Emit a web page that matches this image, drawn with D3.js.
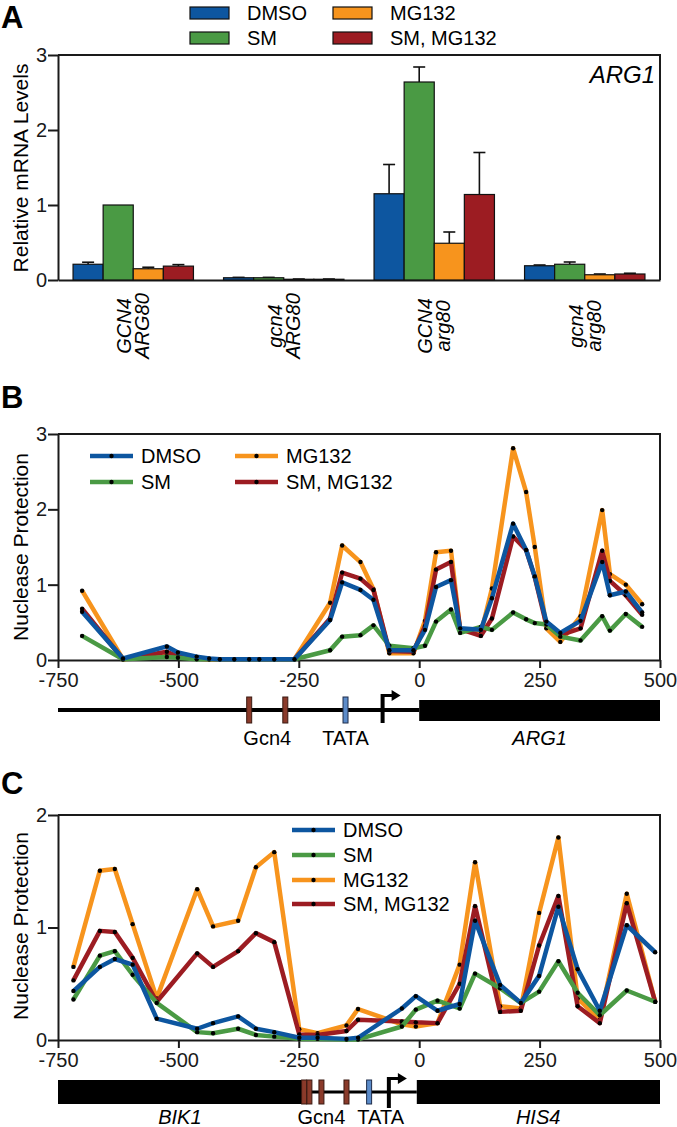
<!DOCTYPE html>
<html>
<head>
<meta charset="utf-8">
<script src="https://cdn.jsdelivr.net/npm/d3@7"></script>
<style>
body { margin: 0; background: #fff; }
svg { font-family: "Liberation Sans", Arial, sans-serif; }
.axis path, .axis line { stroke: #1a1a1a; stroke-width: 2; }
.axis text { font-size: 20px; fill: #1a1a1a; }
</style>
</head>
<body>
<div class="container"></div>
<script>
const WIDTH = 677;
const HEIGHT = 1127;
const LEFT = 58;
const RIGHT = 660;

// ---- panel A: relative ARG1 mRNA ----
var strains = [["GCN4", "ARG80"], ["gcn4", "ARG80"], ["GCN4", "arg80"], ["gcn4", "arg80"]];
var treatments = ["DMSO", "SM", "MG132", "SM, MG132"];
var colors = ["#0d56a0", "#4a9a44", "#f7941d", "#9c1c22"];
var mrnaMean = [
  [0.21, 1.00, 0.15, 0.185],
  [0.03, 0.03, 0.01, 0.01],
  [1.15, 2.64, 0.49, 1.14],
  [0.19, 0.21, 0.07, 0.08]
];
var mrnaErr = [
  [0.027, 0, 0.02, 0.02],
  [0.005, 0.005, 0.003, 0.003],
  [0.39, 0.20, 0.15, 0.56],
  [0.01, 0.03, 0.01, 0.01]
];
var mrnaTicks = [0, 1, 2, 3];

// ---- panel B: ARG1 nuclease protection ----
var argPos = [-700, -615, -524, -501, -462, -436, -414, -384, -353, -332, -301, -259, -185, -160, -122, -95, -62, -12, 12, 35, 66, 85, 128, 151, 195, 222, 240, 264, 293, 335, 380, 396, 429, 463];
var argDMSO = [0.64, 0.02, 0.18, 0.10, 0.045, 0.02, 0.01, 0.01, 0.01, 0.01, 0.01, 0.01, 0.53, 1.03, 0.93, 0.80, 0.13, 0.13, 0.40, 0.97, 1.06, 0.42, 0.40, 0.82, 1.81, 1.46, 1.11, 0.51, 0.36, 0.52, 1.30, 0.86, 0.91, 0.63];
var argSM = [0.32, 0.01, 0.04, 0.03, 0.01, 0.01, 0.01, 0.01, 0.01, 0.01, 0.01, 0.01, 0.13, 0.31, 0.33, 0.46, 0.19, 0.155, 0.19, 0.51, 0.67, 0.36, 0.44, 0.40, 0.63, 0.54, 0.49, 0.47, 0.31, 0.26, 0.58, 0.39, 0.61, 0.44];
var argMG = [0.92, 0.01, 0.07, 0.04, 0.02, 0.01, 0.01, 0.01, 0.01, 0.01, 0.01, 0.01, 0.76, 1.52, 1.30, 0.94, 0.09, 0.09, 0.52, 1.43, 1.45, 0.40, 0.35, 0.95, 2.81, 2.23, 1.50, 0.42, 0.24, 0.58, 1.99, 1.14, 1.00, 0.74];
var argSMMG = [0.68, 0.01, 0.11, 0.05, 0.02, 0.01, 0.01, 0.01, 0.01, 0.01, 0.01, 0.01, 0.55, 1.16, 1.08, 0.93, 0.12, 0.11, 0.45, 1.20, 1.30, 0.41, 0.32, 0.55, 1.64, 1.46, 1.10, 0.47, 0.33, 0.42, 1.45, 1.05, 0.86, 0.60];

// ---- panel C: BIK1-HIS4 nuclease protection ----
var hisPos = [-718, -663, -632, -595, -545, -461, -428, -376, -339, -301, -249, -211, -151, -127, -36, -7, 38, 84, 116, 168, 211, 249, 289, 329, 375, 431, 490];
var hisDMSO = [0.435, 0.65, 0.72, 0.67, 0.19, 0.10, 0.15, 0.21, 0.10, 0.07, 0.02, 0.02, 0.01, 0.02, 0.28, 0.39, 0.26, 0.32, 1.06, 0.49, 0.33, 0.57, 1.185, 0.63, 0.26, 1.02, 0.78];
var hisSM = [0.36, 0.75, 0.79, 0.58, 0.33, 0.07, 0.06, 0.10, 0.045, 0.03, 0.01, 0.01, 0.005, 0.005, 0.12, 0.27, 0.35, 0.28, 0.59, 0.46, 0.33, 0.43, 0.70, 0.42, 0.22, 0.44, 0.34];
var hisMG = [0.65, 1.505, 1.52, 1.03, 0.37, 1.34, 1.01, 1.06, 1.535, 1.67, 0.095, 0.06, 0.13, 0.275, 0.14, 0.12, 0.15, 0.67, 1.58, 0.30, 0.28, 1.13, 1.80, 0.37, 0.18, 1.30, 0.34];
var hisSMMG = [0.53, 0.97, 0.96, 0.73, 0.34, 0.77, 0.65, 0.79, 0.95, 0.87, 0.05, 0.045, 0.08, 0.18, 0.165, 0.157, 0.15, 0.50, 1.19, 0.25, 0.26, 0.84, 1.28, 0.30, 0.15, 1.215, 0.34];

var bpTicks = [-750, -500, -250, 0, 250, 500];

// promoter features (bp)
var argGcn4 = [-353, -278];
var argTata = [-153];
var argTss = -76;
var hisGcn4 = [-239, -228, -203, -151];
var hisTata = [-104];
var hisTss = -63;

var svg = d3.select('.container').append('svg')
  .attr('width', WIDTH)
  .attr('height', HEIGHT);

var translate = function (x, y) {
  return "translate(" + x + "," + y + ")";
};

var panelLetter = function (t, y) {
  svg.append('text').attr('x', 1).attr('y', y)
    .style('font-size', '31px').style('font-weight', 'bold')
    .text(t);
};

var yLabel = function (t, cy) {
  svg.append('text')
    .attr('transform', translate(28, cy) + " rotate(-90)")
    .attr('text-anchor', 'middle')
    .style('font-size', '21px')
    .text(t);
};

var frame = function (top, bottom) {
  svg.append('path')
    .attr('d', "M" + LEFT + "," + top + "H" + RIGHT + "V" + bottom)
    .attr('fill', 'none').attr('stroke', '#1a1a1a').attr('stroke-width', 2);
};

// ================= panel A =================
panelLetter("A", 28);

var aY = d3.scaleLinear().domain([0, 3]).range([280, 55]);
var aX = d3.scaleBand().domain(d3.range(strains.length))
  .range([LEFT, RIGHT]).paddingInner(0.2).paddingOuter(0.1);
var aSub = d3.scaleBand().domain(d3.range(treatments.length))
  .range([0, aX.bandwidth()]);

frame(55, 280);

svg.append('g').attr('class', 'axis')
  .attr('transform', translate(LEFT, 0))
  .call(d3.axisLeft(aY).tickValues(mrnaTicks).tickSize(10).tickSizeOuter(0).tickPadding(1).tickFormat(d3.format('d')));

svg.append('g').attr('class', 'axis')
  .attr('transform', translate(0, 280))
  .call(d3.axisBottom(aX).tickSize(0).tickSizeOuter(0).tickFormat(''));

var groups = svg.append('g').selectAll('g').data(mrnaMean).enter().append('g')
  .attr('transform', function (d, i) { return translate(aX(i), 0); });

groups.each(function (vals, gi) {
  var g = d3.select(this);
  vals.forEach(function (v, ti) {
    var e = mrnaErr[gi][ti];
    var cx = aSub(ti) + aSub.bandwidth() / 2;
    if (e > 0) {
      g.append('line').attr('x1', cx).attr('x2', cx)
        .attr('y1', aY(v)).attr('y2', aY(v + e))
        .attr('stroke', '#111').attr('stroke-width', 1.6);
      g.append('line').attr('x1', cx - 6).attr('x2', cx + 6)
        .attr('y1', aY(v + e)).attr('y2', aY(v + e))
        .attr('stroke', '#111').attr('stroke-width', 1.6);
    }
    g.append('rect')
      .attr('x', aSub(ti)).attr('width', aSub.bandwidth())
      .attr('y', aY(v)).attr('height', aY(0) - aY(v))
      .attr('fill', colors[ti]).attr('stroke', '#111').attr('stroke-width', 1.2);
  });
});

svg.append('g').selectAll('text').data(strains).enter().append('text')
  .attr('transform', function (d, i) { return translate(aX(i) + aX.bandwidth() / 2, 326) + " rotate(-90)"; })
  .attr('text-anchor', 'middle')
  .style('font-size', '20px').style('font-style', 'italic')
  .each(function (d) {
    d3.select(this).append('tspan').attr('x', 0).attr('y', -2).text(d[0]);
    d3.select(this).append('tspan').attr('x', 0).attr('y', 16).text(d[1]);
  });

svg.append('text').attr('x', 655).attr('y', 83).attr('text-anchor', 'end')
  .style('font-size', '24px').style('font-style', 'italic').text("ARG1");

yLabel("Relative mRNA Levels", 168);

// legend A
var legA = [[190, 13], [190, 38], [333, 13], [333, 38]];
treatments.forEach(function (t, ti) {
  var p = legA[ti];
  svg.append('rect').attr('x', p[0]).attr('y', p[1] - 6).attr('width', 39).attr('height', 12)
    .attr('fill', colors[ti]).attr('stroke', '#111').attr('stroke-width', 1.2);
  svg.append('text').attr('x', p[0] + 57).attr('y', p[1]).attr('dy', '0.36em')
    .style('font-size', '20px').text(t);
});

// ================= line panels =================
var bpX = d3.scaleLinear().domain([-750, 500]).range([LEFT, RIGHT]);

var linePanel = function (top, bottom, yMax, pos, series, order) {
  var y = d3.scaleLinear().domain([0, yMax]).range([bottom, top]);
  frame(top, bottom);
  svg.append('g').attr('class', 'axis')
    .attr('transform', translate(LEFT, 0))
    .call(d3.axisLeft(y).tickValues(d3.range(0, yMax + 1)).tickSize(10).tickSizeOuter(0).tickPadding(1).tickFormat(d3.format('d')));
  svg.append('g').attr('class', 'axis')
    .attr('transform', translate(0, bottom))
    .call(d3.axisBottom(bpX).tickValues(bpTicks).tickSize(8).tickSizeOuter(0).tickPadding(5).tickFormat(function (d) { return String(d); }));

  var line = d3.line()
    .x(function (d, i) { return bpX(pos[i]); })
    .y(function (d) { return y(d); });

  order.forEach(function (si) {
    var g = svg.append('g');
    g.append('path').attr('d', line(series[si]))
      .attr('fill', 'none').attr('stroke', colors[si])
      .attr('stroke-width', 4.5).attr('stroke-linejoin', 'round');
    g.selectAll('circle').data(series[si]).enter().append('circle')
      .attr('cx', function (d, i) { return bpX(pos[i]); })
      .attr('cy', function (d) { return y(d); })
      .attr('r', 2.2).attr('fill', '#000');
  });
};

var lineLegend = function (items) {
  items.forEach(function (it) {
    var si = it[0], x = it[1], yy = it[2];
    svg.append('line').attr('x1', x).attr('x2', x + 43).attr('y1', yy).attr('y2', yy)
      .attr('stroke', colors[si]).attr('stroke-width', 4.5);
    svg.append('circle').attr('cx', x + 21.5).attr('cy', yy).attr('r', 2.2).attr('fill', '#000');
    svg.append('text').attr('x', x + 51).attr('y', yy).attr('dy', '0.36em')
      .style('font-size', '20px').text(treatments[si]);
  });
};

var site = function (bp, yc, h, fill, stroke) {
  svg.append('rect').attr('x', bpX(bp) - 2.5).attr('y', yc - h / 2)
    .attr('width', 5).attr('height', h)
    .attr('fill', fill).attr('stroke', stroke).attr('stroke-width', 1);
};

var tssArrow = function (bp, yTop, yBot) {
  var x = bpX(bp);
  svg.append('line').attr('x1', x).attr('x2', x).attr('y1', yTop).attr('y2', yBot)
    .attr('stroke', '#000').attr('stroke-width', 4);
  svg.append('line').attr('x1', x).attr('x2', x + 10).attr('y1', yTop + 1.5).attr('y2', yTop + 1.5)
    .attr('stroke', '#000').attr('stroke-width', 3);
  svg.append('path')
    .attr('d', "M" + (x + 9) + "," + (yTop - 4) + "L" + (x + 18) + "," + (yTop + 1.5) + "L" + (x + 9) + "," + (yTop + 7) + "Z")
    .attr('fill', '#000');
};

var diagText = function (t, bp, yy, italic) {
  svg.append('text').attr('x', bpX(bp)).attr('y', yy).attr('text-anchor', 'middle')
    .style('font-size', '20px').style('font-style', italic ? 'italic' : 'normal')
    .text(t);
};

// ================= panel B =================
panelLetter("B", 408);
linePanel(434, 660, 3, argPos, [argDMSO, argSM, argMG, argSMMG], [2, 3, 1, 0]);
yLabel("Nuclease Protection", 547);
lineLegend([[0, 90, 456], [1, 90, 482], [2, 235, 456], [3, 235, 482]]);

svg.append('line').attr('x1', bpX(-750)).attr('x2', bpX(0)).attr('y1', 710).attr('y2', 710)
  .attr('stroke', '#000').attr('stroke-width', 4);
svg.append('rect').attr('x', bpX(0)).attr('y', 700).attr('width', bpX(500) - bpX(0)).attr('height', 21)
  .attr('fill', '#000');
argGcn4.forEach(function (b) { site(b, 710, 26, '#8a3a2a', '#3a1a12'); });
argTata.forEach(function (b) { site(b, 710, 26, '#5b8bc9', '#1f2d4a'); });
tssArrow(argTss, 694, 723);
diagText("Gcn4", d3.mean(argGcn4), 745, false);
diagText("TATA", argTata[0], 745, false);
diagText("ARG1", 250, 745, true);

// ================= panel C =================
panelLetter("C", 794);
linePanel(815, 1040, 2, hisPos, [hisDMSO, hisSM, hisMG, hisSMMG], [2, 3, 1, 0]);
yLabel("Nuclease Protection", 926);
lineLegend([[0, 292, 830], [1, 292, 855], [2, 292, 880], [3, 292, 904]]);

svg.append('rect').attr('x', bpX(-750)).attr('y', 1080).attr('width', bpX(-243) - bpX(-750)).attr('height', 24)
  .attr('fill', '#000');
svg.append('line').attr('x1', bpX(-243)).attr('x2', bpX(-5)).attr('y1', 1092).attr('y2', 1092)
  .attr('stroke', '#000').attr('stroke-width', 3);
svg.append('rect').attr('x', bpX(-5)).attr('y', 1080).attr('width', bpX(500) - bpX(-5)).attr('height', 24)
  .attr('fill', '#000');
hisGcn4.forEach(function (b) { site(b, 1092, 24, '#8a3a2a', '#3a1a12'); });
hisTata.forEach(function (b) { site(b, 1092, 24, '#5b8bc9', '#1f2d4a'); });
tssArrow(hisTss, 1077, 1108);
diagText("BIK1", -497, 1124, true);
diagText("Gcn4", -203, 1124, false);
diagText("TATA", -80, 1124, false);
diagText("HIS4", 247, 1124, true);
</script>
</body>
</html>
